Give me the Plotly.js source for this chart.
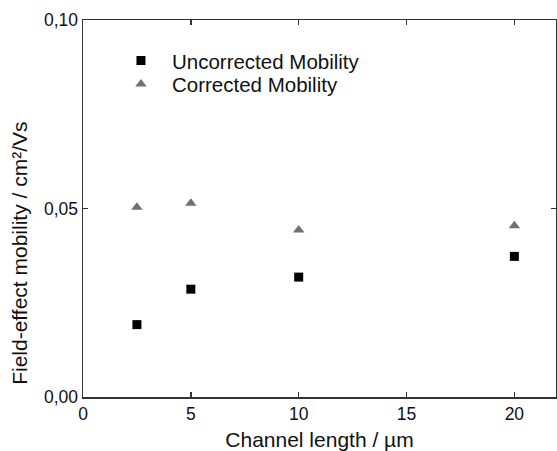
<!DOCTYPE html>
<html>
<head>
<meta charset="utf-8">
<script src="https://cdn.plot.ly/plotly-3.0.1.min.js"></script>
<style>html,body{margin:0;padding:0;background:#fff;}#chart{width:557px;height:451px;}</style>
</head>
<body>
<div id="chart"></div>
<script>
// Data
const channelLength = [2.5, 5, 10, 20];
const uncorrectedMobility = [0.0192, 0.0286, 0.0318, 0.0373];
const correctedMobility = [0.0503, 0.0514, 0.0443, 0.0454];
const xTickValues = [0, 5, 10, 15, 20];
const yTickValues = [0, 0.05, 0.10];
const seriesNames = ['Uncorrected Mobility', 'Corrected Mobility'];
const xTitle = 'Channel length / µm';
const yTitle = 'Field-effect mobility / cm²/Vs';

const FONT = '"Liberation Sans", Arial, Helvetica, sans-serif';

const traces = [
  {
    x: channelLength, y: uncorrectedMobility, name: seriesNames[0],
    type: 'scatter', mode: 'markers',
    marker: {symbol: 'square', size: 9, color: '#000000'},
    legend: 'legend'
  },
  {
    x: channelLength, y: correctedMobility, name: seriesNames[1],
    type: 'scatter', mode: 'markers',
    marker: {symbol: 'triangle-up', size: 10, color: '#707070'},
    legend: 'legend2'
  }
];

const legendCommon = {
  xanchor: 'left', yanchor: 'middle',
  bgcolor: 'rgba(0,0,0,0)', borderwidth: 0,
  font: {family: FONT, size: 20.5, color: '#111'},
  itemwidth: 52, itemclick: false
};

const layout = {
  width: 557, height: 451,
  margin: {l: 83, r: 1, t: 20, b: 54},
  paper_bgcolor: '#ffffff', plot_bgcolor: '#ffffff',
  separators: ',.',
  font: {family: FONT, color: '#111'},
  showlegend: true,
  legend: Object.assign({x: 0.057, y: 0.892}, legendCommon),
  legend2: Object.assign({x: 0.057, y: 0.830}, legendCommon),
  xaxis: {
    range: [0, 21.93],
    tickvals: xTickValues,
    ticktext: xTickValues.map(String),
    ticks: 'inside', ticklen: 5, tickwidth: 1.5, tickcolor: '#333',
    showline: true, linecolor: '#333', linewidth: 1.5, mirror: 'ticks',
    showgrid: false, zeroline: false,
    tickfont: {family: FONT, size: 17.5, color: '#111'},
    title: {text: xTitle, font: {family: FONT, size: 21, color: '#111'}, standoff: 11}
  },
  yaxis: {
    range: [0, 0.1],
    tickvals: yTickValues,
    tickformat: '.2f',
    ticks: 'inside', ticklen: 5, tickwidth: 1.5, tickcolor: '#333',
    showline: true, linecolor: '#333', linewidth: 1.5, mirror: 'ticks',
    showgrid: false, zeroline: false,
    tickfont: {family: FONT, size: 17.5, color: '#111'}
  },
  annotations: [{
    text: yTitle, textangle: -90,
    xref: 'paper', yref: 'paper', x: -0.133, y: 0.38,
    xanchor: 'center', yanchor: 'middle', showarrow: false,
    font: {family: FONT, size: 21, color: '#111'}
  }]
};

Plotly.newPlot('chart', traces, layout, {displayModeBar: false, staticPlot: true});
</script>
</body>
</html>
